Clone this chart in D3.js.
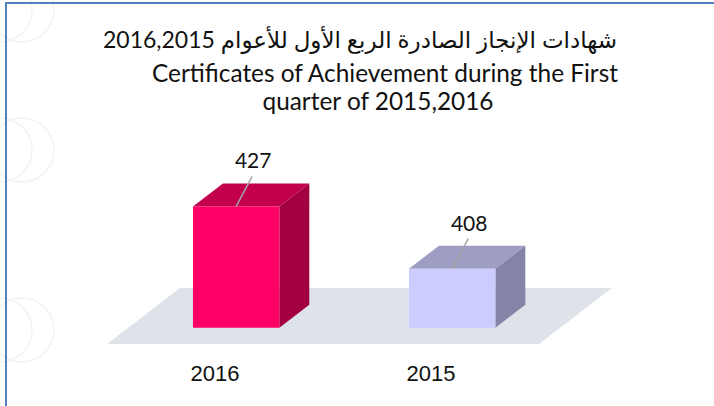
<!DOCTYPE html>
<html><head><meta charset="utf-8">
<script src="https://cdn.jsdelivr.net/npm/d3@7"></script>
<style>html,body{margin:0;padding:0;background:#fff;}svg{display:block;}</style>
</head><body>
<script>
const categories = ["2016", "2015"];
const values = [427, 408];
const titleAr = "شهادات الإنجاز الصادرة الربع الأول للأعوام 2016,2015";
const titleEn = ["Certificates of Achievement during the First", "quarter of 2015,2016"];
const frontColors = ["#FF0066", "#CCCCFF"];
const topColors = ["#C2004C", "#9E9EC4"];
const sideColors = ["#A3003F", "#8484A6"];

const W = 714, H = 406;
const svg = d3.select("body").append("svg").attr("width", W).attr("height", H);

// faint background pattern
const deco = svg.append("g").attr("fill", "none").attr("stroke", "#f0f2f5").attr("stroke-width", 1.5);
[[0,150,32],[22,150,32],[0,330,32],[22,330,32],[0,10,32],[22,10,32]].forEach(c=>{
  deco.append("circle").attr("cx",c[0]).attr("cy",c[1]).attr("r",c[2]);
});

// border
svg.append("line").attr("x1",5).attr("x2",W).attr("y1",3).attr("y2",3).attr("stroke","#4F81BD").attr("stroke-width",2);
svg.append("line").attr("x1",6).attr("x2",6).attr("y1",3).attr("y2",H).attr("stroke","#4F81BD").attr("stroke-width",2);

// titles
const tg = svg.append("g").attr("fill", "#111");
tg.append("text").attr("x", 360).attr("y", 48).attr("text-anchor","middle")
  .attr("direction","rtl").style("unicode-bidi","embed")
  .attr("font-family","Lato, 'DejaVu Sans'").attr("font-size",23).text(titleAr);
tg.append("text").attr("x", 385).attr("y", 82).attr("text-anchor","middle")
  .attr("font-family","Lato").attr("font-size",24.4).text(titleEn[0]);
tg.append("text").attr("x", 378).attr("y", 110).attr("text-anchor","middle")
  .attr("font-family","Lato").attr("font-size",24.4).text(titleEn[1]);

// 3D geometry
const floorY = 344, depthDX = 73, depthDY = -56;
const zFront = 0.29, zBack = 0.70;
const x = d3.scaleBand().domain(categories).range([107, 539]).paddingInner(0.6).paddingOuter(0.3);
const y = d3.scaleLinear().domain([390, 440]).range([floorY, 180]);
const P = (px, py, z) => [px + z*depthDX, py + z*depthDY];
const poly = pts => "M" + pts.map(p=>p.join(",")).join("L") + "Z";

// floor
const [x0, x1] = x.range();
svg.append("path").attr("fill", "#DEE3EA")
  .attr("d", poly([P(x0,floorY,0), P(x1,floorY,0), P(x1,floorY,1), P(x0,floorY,1)]));

const bars = svg.append("g");
categories.forEach((c,i)=>{
  const bx = x(c), bw = x.bandwidth(), yt = y(values[i]), yb = y(390);
  const g = bars.append("g");
  g.append("path").attr("fill", topColors[i])
    .attr("d", poly([P(bx,yt,zFront), P(bx+bw,yt,zFront), P(bx+bw,yt,zBack), P(bx,yt,zBack)]));
  g.append("path").attr("fill", sideColors[i])
    .attr("d", poly([P(bx+bw,yt,zFront), P(bx+bw,yb,zFront), P(bx+bw,yb,zBack), P(bx+bw,yt,zBack)]));
  g.append("path").attr("fill", frontColors[i])
    .attr("d", poly([P(bx,yt,zFront), P(bx+bw,yt,zFront), P(bx+bw,yb,zFront), P(bx,yb,zFront)]));
  const [fx, fy] = P(bx + bw/2, yt, zFront);
  g.append("line").attr("x1", fx).attr("y1", fy).attr("x2", fx+16).attr("y2", fy-30)
    .attr("stroke","#A6A6A6").attr("stroke-width",1.5);
  g.append("text").attr("x", fx+17).attr("y", fy-38).attr("text-anchor","middle")
    .attr("font-family","Lato").attr("font-size",21).attr("fill","#111").text(values[i]);
  svg.append("text").attr("x", x(c)+bw/2).attr("y", 381).attr("text-anchor","middle")
    .attr("font-family","'Liberation Sans', Arial").attr("font-size",22).attr("fill","#111").text(c);
});
</script>
</body></html>
